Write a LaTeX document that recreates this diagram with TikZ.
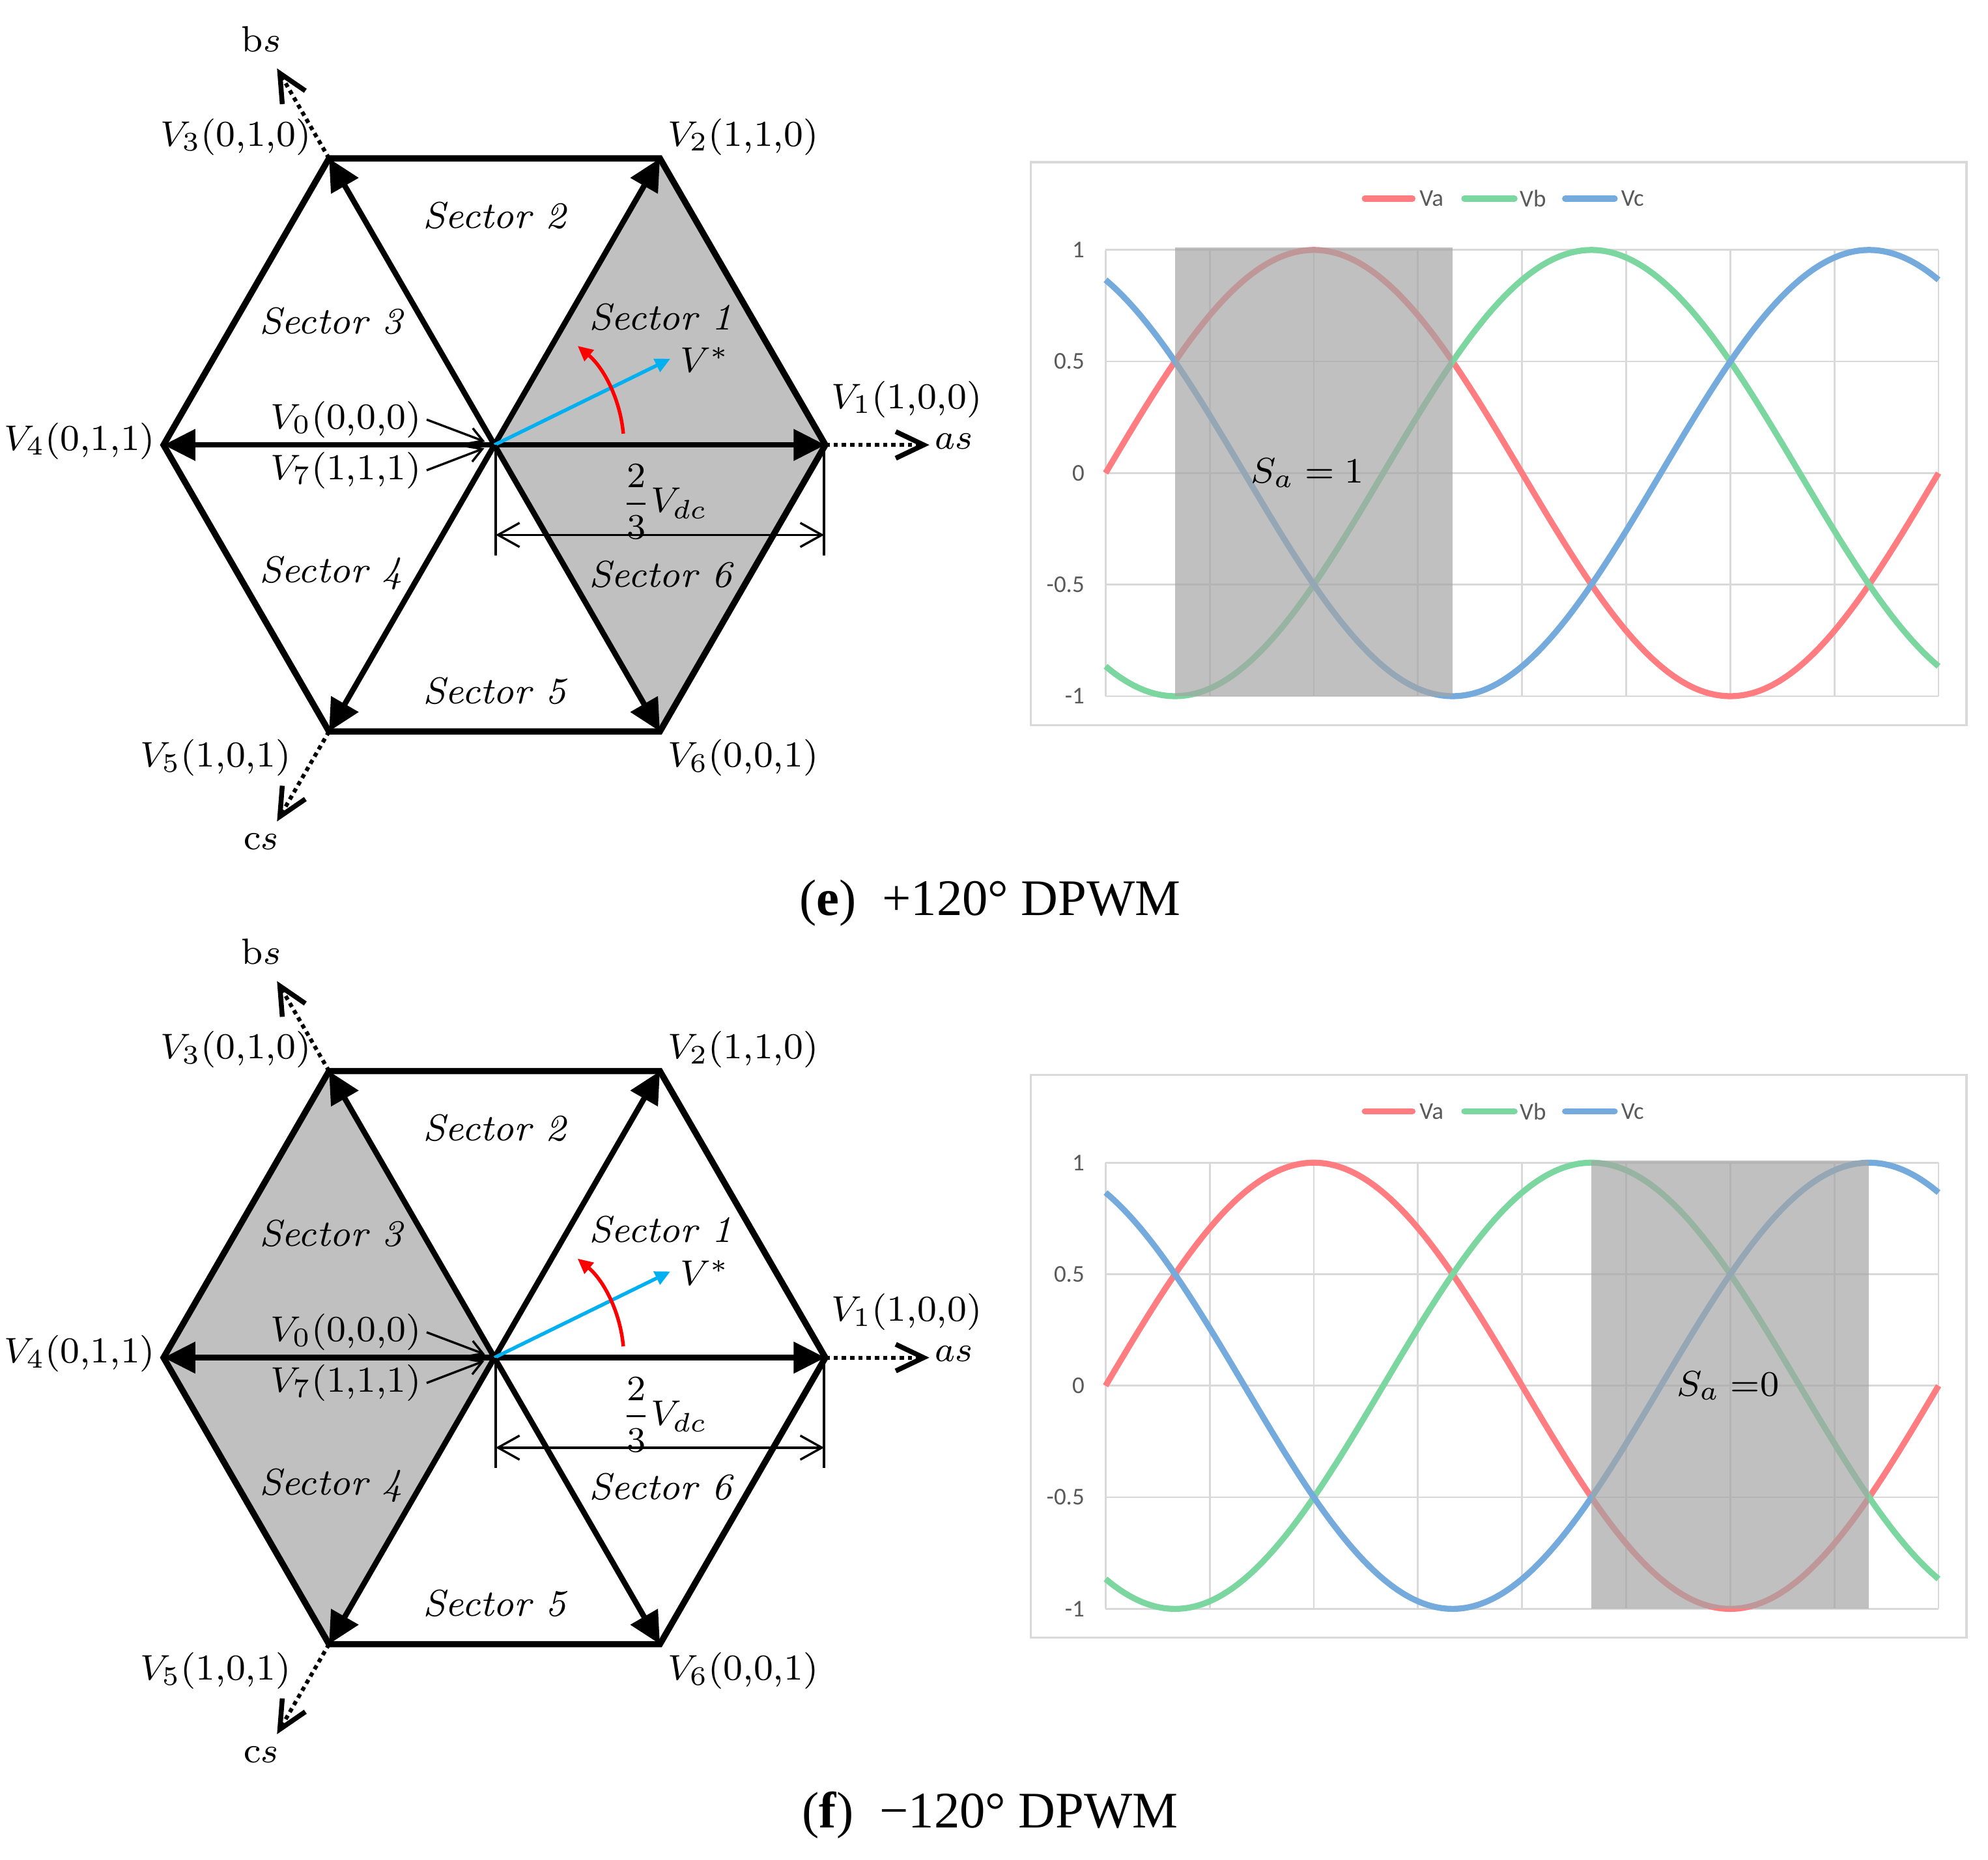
\documentclass[tikz,border=0pt]{standalone}
\usepackage{fontspec}
\newfontfamily\capfont{Liberation Serif}
\newfontfamily\chartfont{Carlito}
\usetikzlibrary{arrows.meta}

\definecolor{vacol}{HTML}{FF7C80}
\definecolor{vbcol}{HTML}{7BD6A0}
\definecolor{vccol}{HTML}{74ABDC}
\definecolor{gridcol}{HTML}{D9D9D9}
\definecolor{vrefcol}{HTML}{00B0F0}
\definecolor{secgray}{HTML}{C0C0C0}
\definecolor{bandgray}{HTML}{A4A4A4}
\definecolor{ticktext}{HTML}{595959}

\tikzset{
  hexedge/.style={line width=1.4pt, line join=miter},
  spoke/.style={line width=1.25pt, -{Triangle[length=2.5mm,width=2.4mm]}},
  axisline/.style={line width=0.9pt, dash pattern=on 0.95pt off 0.9pt,
    -{Straight Barb[length=2.2mm,width=2.1mm,line width=1.1pt]}},
  lbl/.style={font=\fontsize{8.2}{10}\selectfont, inner sep=0pt},
  seclbl/.style={font=\fontsize{8.4}{10}\selectfont\itshape, inner sep=0pt},
  leader/.style={line width=0.5pt, -{Straight Barb[length=1.1mm,width=1.3mm]}},
  dimline/.style={line width=0.5pt},
  dimarrow/.style={dimline, {Straight Barb[length=1.7mm,width=1.9mm]}-{Straight Barb[length=1.7mm,width=1.9mm]}},
  vrefarrow/.style={vrefcol, line width=0.8pt, -{Triangle[length=1.2mm,width=1.1mm]}},
  rotarrow/.style={red, line width=0.8pt, -{Triangle[length=1.2mm,width=1.1mm]}},
  gridline/.style={gridcol, line width=0.4pt},
  wave/.style={line width=1.35pt, line join=round},
  legline/.style={line width=1.4pt, line cap=round},
  ticklbl/.style={font=\chartfont\fontsize{5.4}{6}\selectfont, text=ticktext, inner sep=0pt},
  caplbl/.style={font=\capfont\fontsize{11.5}{13}\selectfont, inner sep=0pt},
}

\begin{document}
\begin{tikzpicture}[x=0.1mm, y=0.1mm]
\useasboundingbox (0,0) rectangle (1568,1467);

\foreach \pdy/\shang/\bandlo/\bandhi/\sapos/\salab/\captext in {
    0/0/30/150/87.3/{$S_a = 1$}/{(\textbf{e})\ \ +120° DPWM},
    -720/180/210/330/269/{$S_a\;{=}0$}/{(\textbf{f})\ \ −120° DPWM}} {
\begin{scope}[shift={(0,\pdy)}]

  % space vector hexagon
  \begin{scope}[shift={(390,1116)}]
    \coordinate (O) at (0,0);
    \foreach \k/\ang in {1/0,2/60,3/120,4/180,5/240,6/300}
      \coordinate (V\k) at (\ang:261);
    \coordinate (as) at (0:343);
    \coordinate (bs) at (120:343);
    \coordinate (cs) at (240:343);

    \fill[secgray] (O) -- (\shang-60:261) -- (\shang:261) -- (\shang+60:261) -- cycle;
    \foreach \k in {1,...,6}
      \draw[spoke] (O) -- (V\k);
    \draw[hexedge] (V1) -- (V2) -- (V3) -- (V4) -- (V5) -- (V6) -- cycle;

    \draw[axisline] (V1) -- (as);
    \draw[axisline] (V3) -- (bs);
    \draw[axisline] (V5) -- (cs);
    \node[lbl, anchor=west] (aslab) at (347,3) {$as$};
    \node[lbl] (bslab) at (-184,320) {b$s$};
    \node[lbl] (cslab) at (-184,-313) {c$s$};

    \node[lbl, anchor=east] (v3) at (-144,243) {$V_3$(0,1,0)};
    \node[lbl, anchor=west] (v2) at (136,243) {$V_2$(1,1,0)};
    \node[lbl, anchor=west] (v1) at (265,36) {$V_1$(1,0,0)};
    \node[lbl, anchor=east] (v4) at (-267,3) {$V_4$(0,1,1)};
    \node[lbl, anchor=east] (v5) at (-160,-247) {$V_5$(1,0,1)};
    \node[lbl, anchor=west] (v6) at (136,-247) {$V_6$(0,0,1)};

    % zero vectors
    \node[lbl, anchor=east] (v0) at (-57,20) {$V_0$(0,0,0)};
    \node[lbl, anchor=east] (v7) at (-57,-20) {$V_7$(1,1,1)};
    \coordinate (o0) at (-7.5,2.6);
    \coordinate (o7) at (-8,-2.6);
    \draw[leader] ([xshift=0.35mm]v0.east) -- (o0);
    \draw[leader] ([xshift=0.35mm]v7.east) -- (o7);

    \node[seclbl] (s1) at (131,101) {Sector 1};
    \node[seclbl] (s2) at (0,181) {Sector 2};
    \node[seclbl] (s3) at (-129,98) {Sector 3};
    \node[seclbl] (s4) at (-129,-101) {Sector 4};
    \node[seclbl] (s5) at (0,-194) {Sector 5};
    \node[seclbl] (s6) at (131,-102) {Sector 6};

    % reference vector
    \coordinate (vref) at (26.1:154.5);
    \draw[vrefarrow] (O) -- (vref);
    \node[lbl] (vstar) at (166,67) {$V^*$};
    \coordinate (rotstart) at (5:102);
    \draw[rotarrow] (rotstart) arc[start angle=5, end angle=50, radius=102];

    % 2/3 Vdc dimension
    \coordinate (e1) at (1,-87);
    \coordinate (e2) at (260,-87);
    \coordinate (a1) at (1,-71);
    \coordinate (a2) at (260,-71);
    \draw[dimline] (e1) -- +(0,87);
    \draw[dimline] (e2) -- +(0,87);
    \draw[dimarrow] (a1) -- (a2);
    \node[lbl] (vdc) at (134,-45) {$\displaystyle\frac{2}{3}V_{dc}$};
  \end{scope}

  % phase voltage chart
  \draw[gridcol, line width=0.5pt] (813,895) rectangle (1551,1339);
  \draw[legline, vacol] (1076.5,1310.3) -- (1114,1310.3);
  \draw[legline, vbcol] (1155,1310.3) -- (1194.5,1310.3);
  \draw[legline, vccol] (1234.5,1310.3) -- (1273.5,1310.3);
  \node[ticklbl, anchor=west] (lva) at (1119,1310.3) {Va};
  \node[ticklbl, anchor=west] (lvb) at (1198,1310.3) {Vb};
  \node[ticklbl, anchor=west] (lvc) at (1278,1310.3) {Vc};

  \begin{scope}[shift={(872,1093.8)}, x=0.1825mm, y=17.6mm]
    \foreach \v in {-1,-0.5,0,0.5,1}
      \draw[gridline] (0,\v) -- (360,\v);
    \foreach \th in {0,45,...,360}
      \draw[gridline] (\th,-1) -- (\th,1);
    \foreach \v/\txt/\nm in {1/1/a,0.5/0.5/b,0/0/c,-0.5/-0.5/d,-1/-1/e}
      \node[ticklbl, anchor=east, xshift=-1.6mm] (tick\nm) at (0,\v) {\txt};

    \draw[wave, vacol] plot[domain=0:360, samples=121, smooth, variable=\t] (\t, {sin(\t)});
    \draw[wave, vbcol] plot[domain=0:360, samples=121, smooth, variable=\t] (\t, {sin(\t-120)});
    \draw[wave, vccol] plot[domain=0:360, samples=121, smooth, variable=\t] (\t, {sin(\t+120)});

    \fill[bandgray, fill opacity=0.69] (\bandlo,-1) rectangle (\bandhi,1.01);
    \node[font=\fontsize{8}{10}\selectfont, inner sep=0pt] (sa) at (\sapos,0) {\salab};
  \end{scope}

  \node[caplbl, anchor=base] (cap) at (781,745) {\captext};
\end{scope}
}
\end{tikzpicture}
\end{document}
